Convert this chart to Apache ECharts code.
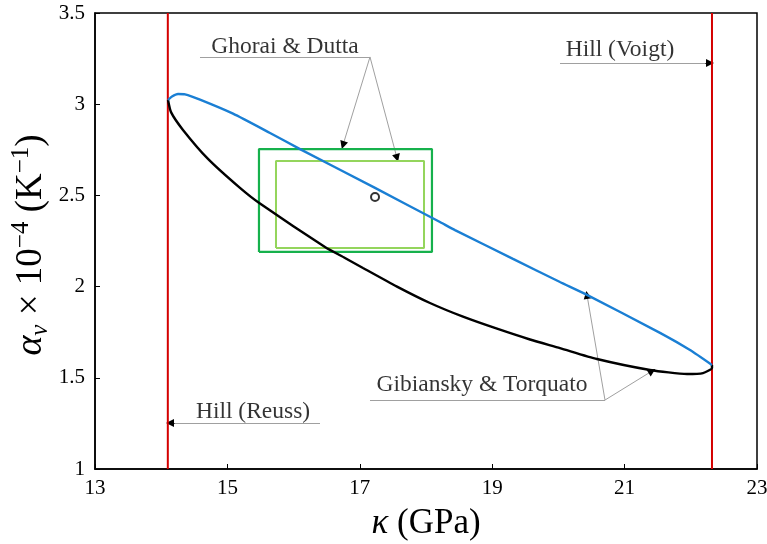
<!DOCTYPE html>
<html>
<head>
<meta charset="utf-8">
<script src="https://cdn.jsdelivr.net/npm/echarts@6/dist/echarts.min.js"></script>
<style>
  html, body { margin: 0; padding: 0; background: #fff; }
  #main { width: 767px; height: 544px; }
</style>
</head>
<body>
<div id="main"></div>
<script>
// 数据
var hillReussX = 14.10;
var hillVoigtX = 22.32;

// Gibiansky & Torquato 上边界（蓝）
var upperBound = [
  [14.103, 3.023], [14.163, 3.042], [14.254, 3.056], [14.36, 3.054], [14.586, 3.025],
  [15.085, 2.948], [15.644, 2.842], [16.097, 2.754], [17.230, 2.541], [18.211, 2.354],
  [18.438, 2.310], [19.314, 2.152], [20.024, 2.025], [20.402, 1.960], [21.535, 1.746],
  [21.988, 1.652], [22.320, 1.570]
];
// 下边界（黑）
var lowerBound = [
  [14.103, 3.023], [14.15, 2.955], [14.329, 2.859], [14.707, 2.700], [15.190, 2.541],
  [15.492, 2.455], [16.474, 2.217], [16.776, 2.157], [17.048, 2.102], [17.562, 2.000],
  [18.060, 1.910], [18.559, 1.835], [19.073, 1.769], [19.571, 1.710], [20.024, 1.663],
  [20.583, 1.603], [21.384, 1.543], [21.943, 1.521], [22.184, 1.526], [22.320, 1.554],
  [22.320, 1.570]
];
// Ghorai & Dutta 矩形
var outerBox = { x: [15.477, 18.09], y: [2.190, 2.754] };
var innerBox = { x: [15.734, 17.970], y: [2.212, 2.689] };
var measured = [17.23, 2.491];

var xTicks = [13, 15, 17, 19, 21, 23];
var yTicks = [1, 1.5, 2, 2.5, 3, 3.5];

// 标注
var labels = [
  { name: 'Ghorai & Dutta', value: [15.87, 3.314] },
  { name: 'Hill (Voigt)', value: [20.93, 3.297] },
  { name: 'Hill (Reuss)', value: [15.387, 1.312] },
  { name: 'Gibiansky & Torquato', value: [18.846, 1.461] }
];
var leaders = [
  [[14.586, 3.259], [17.154, 3.259]],
  [[17.154, 1.378], [20.704, 1.378]]
];
var arrows = [
  [[17.154, 3.259], [16.746, 2.776]],
  [[17.154, 3.259], [17.562, 2.705]],
  [[20.024, 3.226], [22.290, 3.226]],
  [[16.399, 1.252], [14.133, 1.252]],
  [[20.704, 1.378], [20.432, 1.954]],
  [[20.704, 1.378], [21.414, 1.537]]
];

function boxPath(b) {
  return [[b.x[0], b.y[0]], [b.x[1], b.y[0]], [b.x[1], b.y[1]], [b.x[0], b.y[1]], [b.x[0], b.y[1]], [b.x[0], b.y[0]]];
}
// 箭头：在终点附近取一小段，用黑色画三角
function tipSeg(c) {
  var a = c[0], b = c[1];
  return { coords: [[b[0] + (a[0] - b[0]) * 0.03, b[1] + (a[1] - b[1]) * 0.03], b] };
}

var serif = 'Liberation Serif';
var chart = echarts.init(document.getElementById('main'));
var option = {
  animation: false,
  backgroundColor: '#fff',
  grid: {
    left: 95, right: 10, top: 13, bottom: 75,
    show: true, borderColor: '#000', borderWidth: 1.5,
    outerBoundsMode: 'none'
  },
  // y轴标题（旋转文字）
  graphic: [{
    type: 'text', x: 31, y: 245, rotation: Math.PI / 2, silent: true,
    style: {
      text: '{i|α}{sub|v} × 10{sup|−4} (K{sup|−1})',
      fill: '#000', font: '37px "Liberation Serif"',
      align: 'center', verticalAlign: 'middle',
      rich: {
        n: { fontSize: 37, fontFamily: serif, fill: '#000' },
        i: { fontSize: 38, fontStyle: 'italic', fontFamily: serif, fill: '#000', lineHeight: 44 },
        sub: { fontSize: 25, fontStyle: 'italic', fontFamily: serif, fill: '#000', verticalAlign: 'bottom', lineHeight: 44, padding: [14, 0, 0, 0] },
        sup: { fontSize: 25, fontFamily: serif, fill: '#000', verticalAlign: 'top', lineHeight: 44, padding: [0, 0, 16, 0] }
      }
    }
  }],
  xAxis: {
    type: 'value', min: xTicks[0], max: xTicks[xTicks.length - 1], interval: 2,
    axisLine: { lineStyle: { color: '#000', width: 1.5 } },
    axisTick: { inside: true, length: 5, lineStyle: { color: '#000' } },
    splitLine: { show: false },
    axisLabel: { color: '#000', fontSize: 21, fontFamily: serif, margin: 9 },
    name: '{i|κ} (GPa)', nameLocation: 'middle', nameGap: 37,
    nameTextStyle: {
      color: '#000', fontSize: 35, fontFamily: serif,
      rich: {
        i: { fontSize: 35, fontStyle: 'italic', fontFamily: serif, color: '#000' }
      }
    }
  },
  yAxis: {
    type: 'value', min: yTicks[0], max: yTicks[yTicks.length - 1], interval: 0.5,
    axisLine: { lineStyle: { color: '#000', width: 1.5 } },
    axisTick: { inside: true, length: 5, lineStyle: { color: '#000' } },
    splitLine: { show: false },
    axisLabel: { color: '#000', fontSize: 21, fontFamily: serif, margin: 10 }
  },
  series: [
    {
      type: 'line', data: [[hillReussX, 1], [hillReussX, 3.5]], symbol: 'none',
      lineStyle: { color: '#d40000', width: 2 }, silent: true
    },
    {
      type: 'line', data: [[hillVoigtX, 1], [hillVoigtX, 3.5]], symbol: 'none',
      lineStyle: { color: '#d40000', width: 2 }, silent: true
    },
    {
      type: 'line', data: boxPath(outerBox), symbol: 'none',
      lineStyle: { color: '#16b14c', width: 2.2 }
    },
    {
      type: 'line', data: boxPath(innerBox), symbol: 'none',
      lineStyle: { color: '#94d55c', width: 2 }
    },
    {
      type: 'line', data: lowerBound, symbol: 'none', smooth: 0.2,
      lineStyle: { color: '#000', width: 2.4 }
    },
    {
      type: 'line', data: upperBound, symbol: 'none', smooth: 0.2,
      lineStyle: { color: '#1a7fd4', width: 2.4 }
    },
    {
      type: 'scatter', data: [measured], symbol: 'circle', symbolSize: 8,
      itemStyle: { color: '#fff', borderColor: '#000', borderWidth: 2 }
    },
    {
      type: 'lines', coordinateSystem: 'cartesian2d',
      data: leaders.concat(arrows).map(function (c) { return { coords: c }; }),
      lineStyle: { color: '#a0a0a0', width: 1, opacity: 1 }, symbol: 'none', silent: true
    },
    {
      type: 'lines', coordinateSystem: 'cartesian2d',
      data: arrows.map(tipSeg),
      lineStyle: { color: '#000', width: 1, opacity: 1 },
      symbol: ['none', 'triangle'], symbolSize: [0, 8], silent: true
    },
    {
      type: 'scatter', data: labels, symbolSize: 0, silent: true,
      label: {
        show: true, position: 'inside', formatter: '{b}',
        color: '#000', fontSize: 23.5, fontFamily: serif
      }
    }
  ]
};
chart.setOption(option);
</script>
</body>
</html>
